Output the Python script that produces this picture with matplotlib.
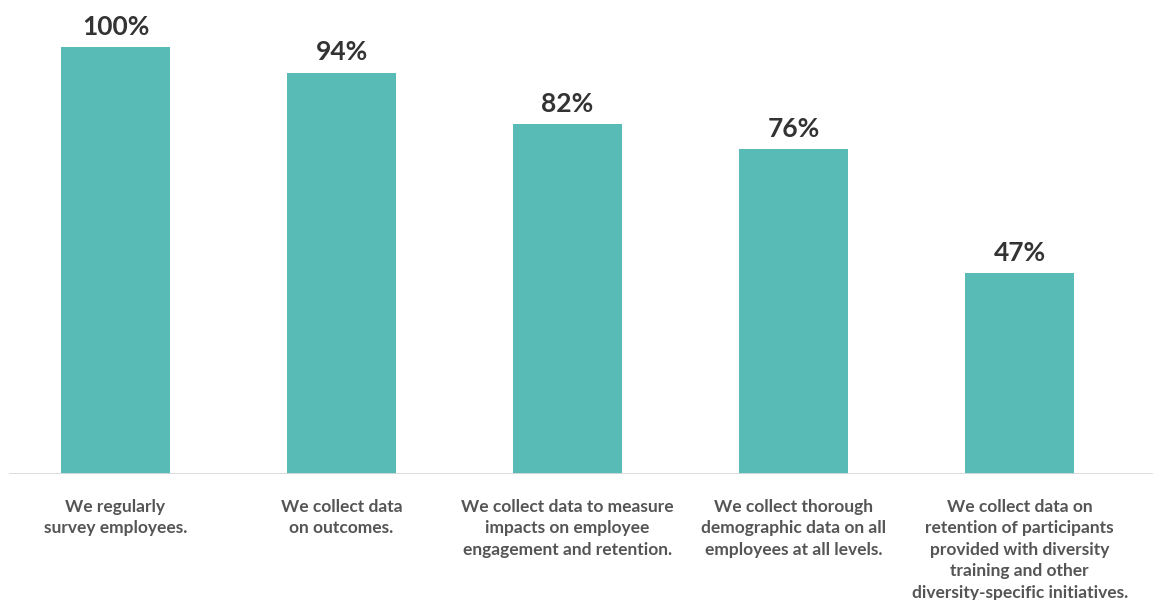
import matplotlib.pyplot as plt

categories = [
    "We regularly\nsurvey employees.",
    "We collect data\non outcomes.",
    "We collect data to measure\nimpacts on employee\nengagement and retention.",
    "We collect thorough\ndemographic data on all\nemployees at all levels.",
    "We collect data on\nretention of participants\nprovided with diversity\ntraining and other\ndiversity-specific initiatives.",
]
values = [100, 94, 82, 76, 47]
value_labels = ["100%", "94%", "82%", "76%", "47%"]

bar_color = "#58bbb5"

fig = plt.figure(figsize=(11.53, 6), dpi=100)
ax = fig.add_axes([9 / 1153, 126 / 600, 1144 / 1153, 474 / 600])

x = list(range(len(values)))
ax.bar(x, values, width=0.485, color=bar_color, zorder=2)

for xi, v, lab in zip(x, values, value_labels):
    ax.annotate(lab, (xi, v), xytext=(0, 6), textcoords="offset points",
                ha="center", va="bottom", fontsize=19, fontweight="bold",
                family="Lato", color="#333333")

ax.set_xlim(-0.471, 4.59)
ax.set_ylim(0, 111)
ax.axhline(0, color="#d9d9d9", linewidth=2, zorder=3)

for xi, cat in zip(x, categories):
    ax.annotate(cat, (xi, 0), xytext=(0, -18), textcoords="offset points",
                ha="center", va="top", fontsize=12.5, fontweight="bold",
                family="Lato", color="#555555", linespacing=1.42,
                annotation_clip=False)

ax.set_xticks([])
ax.set_yticks([])
for s in ax.spines.values():
    s.set_visible(False)

fig.savefig("out.png", dpi=100)
